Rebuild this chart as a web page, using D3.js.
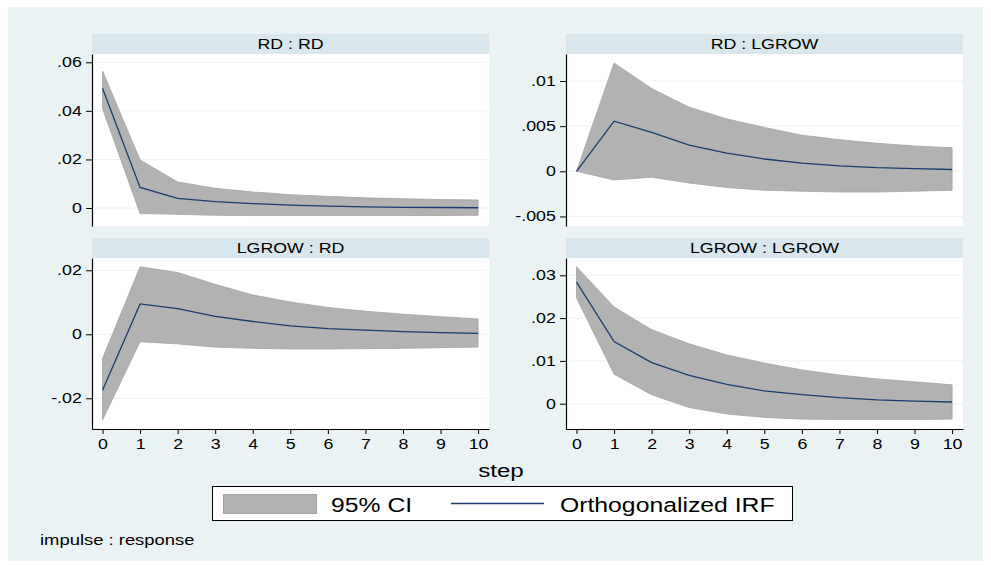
<!DOCTYPE html>
<html>
<head>
<meta charset="utf-8">
<script src="https://cdn.jsdelivr.net/npm/d3@7"></script>
<style>
  body { margin: 0; background: #fff; }
  text { font-family: "Liberation Sans", Arial, sans-serif; fill: #000; }
</style>
</head>
<body>
<script>
// impulse response data
const steps = [0, 1, 2, 3, 4, 5, 6, 7, 8, 9, 10];

const rdrdIrf = [0.0493, 0.0085, 0.0040, 0.0026, 0.0018, 0.0012, 0.0008, 0.0005, 0.0003, 0.0002, 0.0001];
const rdrdLo  = [0.0410, -0.0023, -0.0026, -0.0030, -0.0031, -0.0031, -0.0031, -0.0031, -0.0031, -0.0031, -0.0030];
const rdrdHi  = [0.0564, 0.0198, 0.0107, 0.0081, 0.0066, 0.0055, 0.0048, 0.0042, 0.0038, 0.0035, 0.0033];

const rdlgIrf = [0, 0.00555, 0.0043, 0.0029, 0.0020, 0.00136, 0.0009, 0.0006, 0.0004, 0.0003, 0.0002];
const rdlgLo  = [0, -0.00096, -0.00066, -0.0013, -0.0018, -0.0021, -0.0022, -0.0023, -0.0023, -0.0022, -0.0021];
const rdlgHi  = [0, 0.0120, 0.00916, 0.0071, 0.0058, 0.00486, 0.0040, 0.0035, 0.0031, 0.0028, 0.0026];

const lgrdIrf = [-0.0175, 0.0095, 0.0080, 0.0056, 0.0040, 0.0026, 0.0018, 0.0013, 0.0008, 0.0005, 0.0003];
const lgrdLo  = [-0.0268, -0.0023, -0.0030, -0.0040, -0.0044, -0.0046, -0.0046, -0.0045, -0.0044, -0.0042, -0.0040];
const lgrdHi  = [-0.0076, 0.0211, 0.0193, 0.0156, 0.0123, 0.0101, 0.0084, 0.0072, 0.0063, 0.0055, 0.0048];

const lglgIrf = [0.0284, 0.0145, 0.0096, 0.0066, 0.0045, 0.0030, 0.0021, 0.0014, 0.0009, 0.0006, 0.0004];
const lglgLo  = [0.0247, 0.0069, 0.0021, -0.0009, -0.0024, -0.0032, -0.0036, -0.0037, -0.0037, -0.0037, -0.0036];
const lglgHi  = [0.0320, 0.0226, 0.0173, 0.0140, 0.0114, 0.0095, 0.0079, 0.0067, 0.0058, 0.0051, 0.0044];

// tick values + labels
const rdrdTicks = [0, 0.02, 0.04, 0.06];
const rdrdLabels = ["0", ".02", ".04", ".06"];
const rdlgTicks = [-0.005, 0, 0.005, 0.01];
const rdlgLabels = ["-.005", "0", ".005", ".01"];
const lgrdTicks = [-0.02, 0, 0.02];
const lgrdLabels = ["-.02", "0", ".02"];
const lglgTicks = [0, 0.01, 0.02, 0.03];
const lglgLabels = ["0", ".01", ".02", ".03"];

const panelTitles = ["RD : RD", "RD : LGROW", "LGROW : RD", "LGROW : LGROW"];
const legendLabels = ["95% CI", "Orthogonalized IRF"];

// the source picture was stretched sideways, so is the text
const STRETCH = 1.27;
const bgColor = "#eaf2f3",
      stripColor = "#d9e6eb",
      bandColor = "#b2b2b2",
      bandEdge = "#a3a3a3",
      lineColor = "#1a3c6e";

let svg = null;

appendSvg("body");
drawBackground();

drawPanel({ left: 92, top: 54, bottom: 226, title: panelTitles[0], irf: rdrdIrf, lo: rdrdLo, hi: rdrdHi,
            yDomain: [-0.00741, 0.06342], ticks: rdrdTicks, labels: rdrdLabels, xAxis: false });
drawPanel({ left: 566, top: 54, bottom: 226, title: panelTitles[1], irf: rdlgIrf, lo: rdlgLo, hi: rdlgHi,
            yDomain: [-0.00606, 0.01299], ticks: rdlgTicks, labels: rdlgLabels, xAxis: false });
drawPanel({ left: 92, top: 258, bottom: 429, title: panelTitles[2], irf: lgrdIrf, lo: lgrdLo, hi: lgrdHi,
            yDomain: [-0.0296, 0.02384], ticks: lgrdTicks, labels: lgrdLabels, xAxis: true });
drawPanel({ left: 566, top: 258, bottom: 429, title: panelTitles[3], irf: lglgIrf, lo: lglgLo, hi: lglgHi,
            yDomain: [-0.00591, 0.03404], ticks: lglgTicks, labels: lglgLabels, xAxis: true });

appendStepTitle();
appendLegend();
appendNote();


function appendSvg(domElement) {
  svg = d3.select(domElement).append("svg")
          .attr("width", 991)
          .attr("height", 567);
}

function drawBackground() {
  svg.append("rect")
     .attr("x", 8).attr("y", 7)
     .attr("width", 975).attr("height", 554)
     .attr("fill", bgColor);
}

function stretchedText(g, x, y, str, size, anchor) {
  return g.append("text")
          .attr("transform", `translate(${x},${y}) scale(${STRETCH},1)`)
          .attr("text-anchor", anchor || "start")
          .style("font-size", size + "px")
          .text(str);
}

function drawPanel(p) {
  const width = 397;
  const g = svg.append("g");

  // strip with title
  g.append("rect")
   .attr("x", p.left).attr("y", p.top - 20)
   .attr("width", width).attr("height", 20)
   .attr("fill", stripColor);
  stretchedText(g, p.left + width / 2, p.top - 5, p.title, 14, "middle");

  // plot region
  g.append("rect")
   .attr("x", p.left).attr("y", p.top)
   .attr("width", width).attr("height", p.bottom - p.top)
   .attr("fill", "#fff");

  const x = d3.scaleLinear().domain([-0.28, 10.29]).range([p.left, p.left + width]);
  const y = d3.scaleLinear().domain(p.yDomain).range([p.bottom, p.top]);

  // grid
  g.selectAll(".grid")
   .data(p.ticks)
   .enter()
   .append("line")
   .attr("x1", p.left).attr("x2", p.left + width)
   .attr("y1", d => y(d)).attr("y2", d => y(d))
   .attr("stroke", bgColor)
   .attr("stroke-width", 1);

  // CI band
  const area = d3.area()
                 .x((d, i) => x(steps[i]))
                 .y0((d, i) => y(p.lo[i]))
                 .y1((d, i) => y(p.hi[i]));
  g.append("path")
   .datum(steps)
   .attr("d", area)
   .attr("fill", bandColor)
   .attr("stroke", bandEdge)
   .attr("stroke-width", 0.8);

  // IRF line
  const line = d3.line()
                 .x((d, i) => x(steps[i]))
                 .y((d, i) => y(p.irf[i]));
  g.append("path")
   .datum(steps)
   .attr("d", line)
   .attr("fill", "none")
   .attr("stroke", lineColor)
   .attr("stroke-width", 1.3);

  // y axis
  const yAxis = g.append("g")
                 .attr("transform", `translate(${p.left},0)`)
                 .call(d3.axisLeft(y)
                         .tickValues(p.ticks)
                         .tickFormat((d, i) => p.labels[i])
                         .tickSize(6)
                         .tickSizeOuter(0)
                         .tickPadding(2));
  styleAxis(yAxis);
  yAxis.selectAll("text").attr("transform", `scale(${STRETCH},1)`);

  if (p.xAxis) {
    const xAxis = g.append("g")
                   .attr("transform", `translate(0,${p.bottom})`)
                   .call(d3.axisBottom(x)
                           .tickValues(steps)
                           .tickFormat(d3.format("d"))
                           .tickSize(5)
                           .tickSizeOuter(0)
                           .tickPadding(5));
    styleAxis(xAxis);
    xAxis.selectAll("text").attr("transform", `scale(${STRETCH},1)`);
  }
}

function styleAxis(axis) {
  axis.select(".domain").attr("stroke", "#000").attr("stroke-width", 1.2);
  axis.selectAll(".tick line").attr("stroke", "#000");
  axis.selectAll("text")
      .style("font-size", "14px")
      .style("font-family", '"Liberation Sans", Arial, sans-serif')
      .attr("fill", "#000");
}

function appendStepTitle() {
  stretchedText(svg, 501, 477, "step", 19, "middle");
}

function appendLegend() {
  const g = svg.append("g");
  g.append("rect")
   .attr("x", 212.5).attr("y", 486.5)
   .attr("width", 580).attr("height", 34)
   .attr("fill", "#fff")
   .attr("stroke", "#000")
   .attr("stroke-width", 1);

  g.append("rect")
   .attr("x", 223.5).attr("y", 494.5)
   .attr("width", 93).attr("height", 19)
   .attr("fill", bandColor)
   .attr("stroke", bandEdge)
   .attr("stroke-width", 1);
  stretchedText(g, 331, 512, legendLabels[0], 19.5, "start");

  g.append("line")
   .attr("x1", 451).attr("x2", 544)
   .attr("y1", 503.5).attr("y2", 503.5)
   .attr("stroke", lineColor)
   .attr("stroke-width", 1.3);
  stretchedText(g, 560, 512, legendLabels[1], 19.5, "start");
}

function appendNote() {
  stretchedText(svg, 40, 545, "impulse : response", 14.5, "start");
}
</script>
</body>
</html>
